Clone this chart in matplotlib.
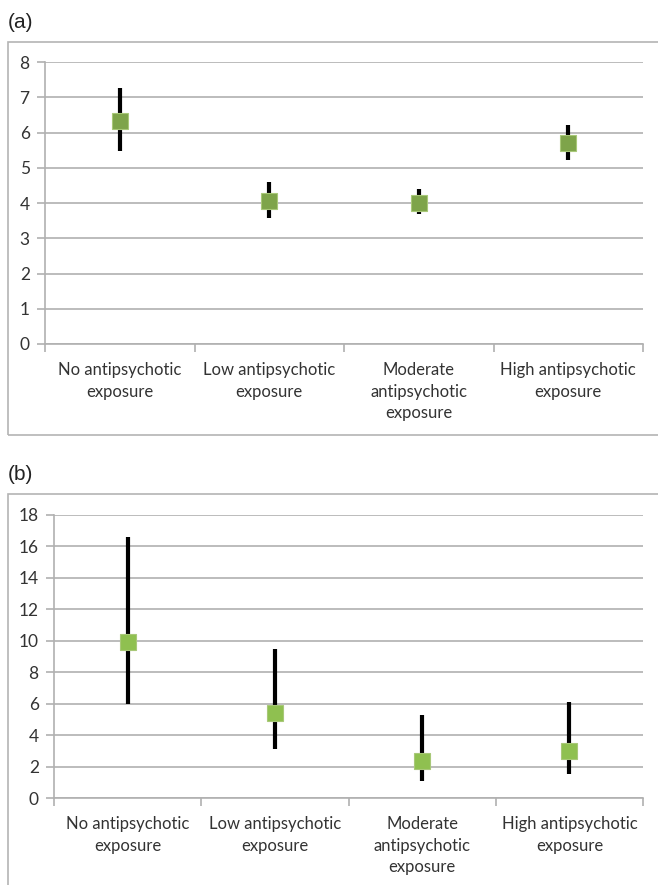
'''
    Antipsychotic exposure panels (a) and (b)
'''

import numpy as np
from matplotlib import pyplot as plt
from matplotlib.patches import Rectangle

plt.rcParams['font.family'] = ['Lato', 'DejaVu Sans']

# Categorias
categories = ['No antipsychotic\nexposure', 'Low antipsychotic\nexposure',
              'Moderate\nantipsychotic\nexposure', 'High antipsychotic\nexposure']

# Painel (a)
a_mean = [6.32, 4.07, 4.01, 5.70]
a_low = [5.48, 3.58, 3.69, 5.22]
a_high = [7.26, 4.60, 4.40, 6.20]

# Painel (b)
b_mean = [9.95, 5.40, 2.35, 3.00]
b_low = [5.98, 3.10, 1.08, 1.50]
b_high = [16.6, 9.48, 5.28, 6.10]

fig = plt.figure(figsize=(6.58, 8.85), dpi=100)

# Molduras
fig.patches.append(Rectangle((0.0122, 0.5085), 1.2, 0.444, transform=fig.transFigure,
                             fill=False, edgecolor='#b4b4b4', linewidth=1.2))
fig.patches.append(Rectangle((0.0122, -0.1), 1.2, 0.5418, transform=fig.transFigure,
                             fill=False, edgecolor='#b4b4b4', linewidth=1.2))

fig.text(0.012, 0.975, '(a)', fontsize=15, va='center', ha='left', color='#222222',
         family=['Liberation Sans', 'DejaVu Sans'])
fig.text(0.012, 0.464, '(b)', fontsize=15, va='center', ha='left', color='#222222',
         family=['Liberation Sans', 'DejaVu Sans'])


def painel(ax, mean, low, high, ymax, step, color):
    x = np.arange(len(categories))
    mean = np.array(mean)
    yerr = [mean - np.array(low), np.array(high) - mean]
    ax.errorbar(x, mean, yerr=yerr, fmt='none', ecolor='black', elinewidth=3,
                capsize=0, zorder=3)
    ax.plot(x, mean, linestyle='none', marker='s', markersize=11,
            markerfacecolor=color, markeredgecolor='#a8c878', markeredgewidth=0.8,
            zorder=4)
    ax.set_xlim(-0.5, len(categories) - 0.5)
    ax.set_ylim(0, ymax)
    ax.set_yticks(np.arange(0, ymax + 0.1, step))
    ax.yaxis.grid(True, color='#b0b0b0', linewidth=1.2)
    ax.set_axisbelow(True)
    ax.set_xticks(x)
    ax.set_xticklabels(categories, fontsize=12, color='#333333', linespacing=1.42)
    ax.set_xticks(np.arange(-0.5, len(categories)), minor=True)
    ax.tick_params(axis='x', which='major', length=0, pad=13)
    ax.tick_params(axis='x', which='minor', length=6, color='#b0b0b0', width=1.2)
    ax.tick_params(axis='y', length=6, color='#b0b0b0', width=1.2, labelsize=12.5,
                   labelcolor='#333333', pad=5)
    for s in ['top', 'right']:
        ax.spines[s].set_visible(False)
    for s in ['left', 'bottom']:
        ax.spines[s].set_color('#b0b0b0')
        ax.spines[s].set_linewidth(1.2)


ax1 = fig.add_axes([0.0684, 0.6113, 0.9088, 0.3186])
painel(ax1, a_mean, a_low, a_high, 8, 1, '#7ea44a')

ax2 = fig.add_axes([0.0821, 0.0983, 0.8951, 0.3198])
painel(ax2, b_mean, b_low, b_high, 18, 2, '#8fc050')

plt.savefig('out.png', dpi=100)
